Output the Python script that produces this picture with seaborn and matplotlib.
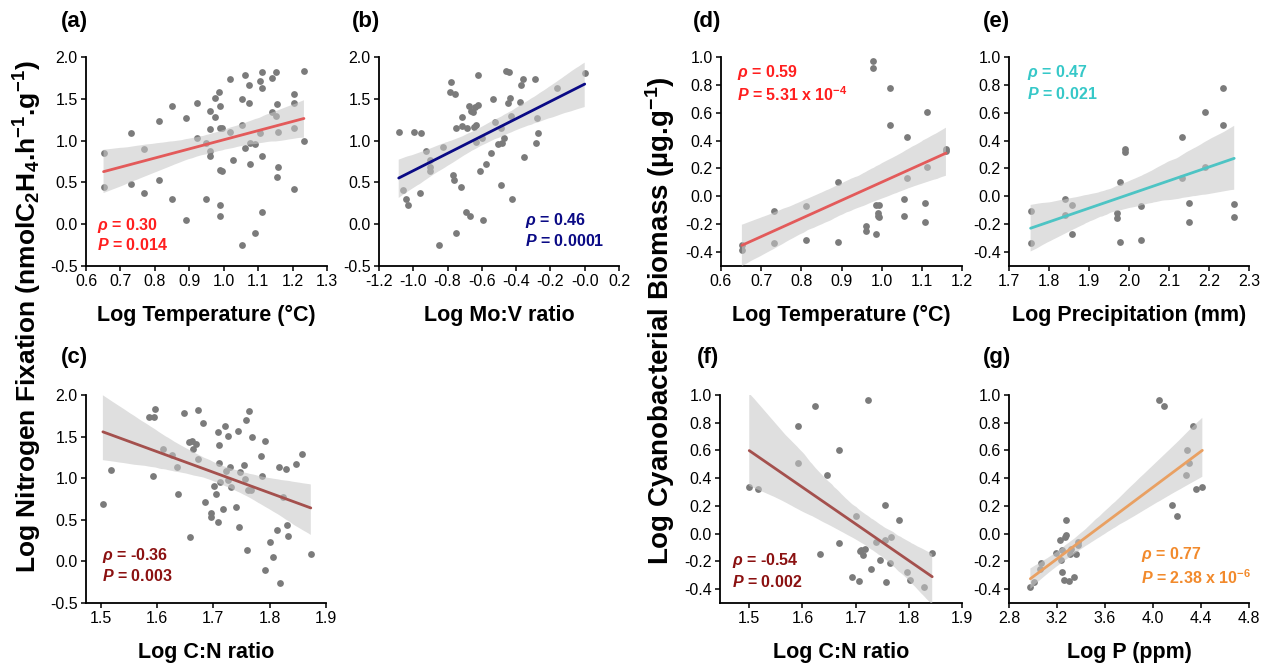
import numpy as np
import pandas as pd
import matplotlib
matplotlib.use("Agg")
import matplotlib.pyplot as plt
from matplotlib.collections import PolyCollection
from matplotlib.ticker import FormatStrFormatter
import seaborn as sns

sns.set_style("ticks")
plt.rcParams['font.family'] = ['Liberation Sans', 'DejaVu Sans']
plt.rcParams['axes.unicode_minus'] = False
plt.rcParams['mathtext.fontset'] = 'custom'
plt.rcParams['mathtext.rm'] = 'Liberation Sans'
plt.rcParams['mathtext.bf'] = 'Liberation Sans:bold'
plt.rcParams['mathtext.it'] = 'Liberation Sans:italic'
plt.rcParams['mathtext.bfit'] = 'Liberation Sans:italic:bold'

# ---------------- data ----------------
a_temp = [0.651, 0.651, 0.730, 0.730, 0.769, 0.769, 0.811, 0.811, 0.849, 0.849,
          0.890, 0.890, 0.922, 0.922, 0.948, 0.948, 0.961, 0.961, 0.961, 0.961,
          0.975, 0.975, 0.985, 0.988, 0.988, 0.988, 0.988, 0.990, 0.994, 0.994,
          1.019, 1.019, 1.026, 1.054, 1.054, 1.054, 1.062, 1.062, 1.072, 1.072,
          1.077, 1.077, 1.091, 1.091, 1.106, 1.106, 1.112, 1.112, 1.112, 1.112,
          1.140, 1.140, 1.152, 1.152, 1.154, 1.159, 1.159, 1.154, 1.204, 1.204,
          1.204, 1.204, 1.233, 1.233]
a_fix = [0.856, 0.44, 1.096, 0.476, 0.896, 0.372, 1.232, 0.532, 1.412, 0.304,
         1.272, 0.052, 1.444, 1.032, 0.976, 0.296, 1.352, 1.14, 0.88, 0.812,
         1.508, 1.28, 1.576, 1.408, 1.156, 0.648, 0.232, 0.096, 1.148, 0.64,
         1.736, 1.108, 0.764, 1.496, 1.188, -0.252, 1.784, 0.908, 1.668, 1.448,
         0.976, 0.716, 0.96, -0.104, 1.708, 1.088, 1.816, 1.628, 0.816, 0.14,
         1.744, 1.348, 1.816, 1.296, 1.44, 1.1, 0.688, 0.568, 1.556, 1.448,
         1.148, 0.416, 1.832, 0.992]

b_mov = [-1.085, -1.060, -1.041, -1.029, -0.996, -0.963, -0.957, -0.924, -0.904, -0.901,
         -0.904, -0.852, -0.829, -0.788, -0.778, -0.768, -0.764, -0.759, -0.753, -0.749,
         -0.724, -0.716, -0.714, -0.691, -0.685, -0.677, -0.667, -0.661, -0.652, -0.642,
         -0.648, -0.636, -0.623, -0.621, -0.632, -0.613, -0.593, -0.599, -0.574, -0.545,
         -0.535, -0.521, -0.506, -0.490, -0.481, -0.473, -0.486, -0.457, -0.442, -0.448,
         -0.438, -0.428, -0.426, -0.379, -0.370, -0.360, -0.356, -0.292, -0.282, -0.276,
         -0.271, -0.160, 0.0]
b_fix = [1.1, 0.412, 0.304, 0.228, 1.104, 0.368, 1.092, 0.872, 0.688, 0.768,
         0.64, -0.252, 0.92, 1.576, 1.7, 0.588, 0.528, 1.56, -0.104, 1.148,
         0.44, 1.28, 1.176, 0.148, 1.148, 1.408, 0.096, 1.36, 1.348, 1.4,
         1.16, 0.988, 1.784, 1.428, 1.188, 0.64, 0.048, 1.028, 0.716, 0.856,
         1.496, 1.228, 0.96, 0.468, 0.976, 1.028, 1.156, 1.828, 1.824, 1.448,
         1.508, 1.296, 0.296, 1.456, 1.668, 1.736, 0.808, 1.74, 0.976, 1.268,
         1.096, 1.628, 1.812]

c_cn = [1.504, 1.519, 1.586, 1.594, 1.597, 1.593, 1.610, 1.626, 1.636, 1.638,
        1.648, 1.656, 1.659, 1.663, 1.664, 1.670, 1.672, 1.672, 1.682, 1.685,
        1.696, 1.696, 1.702, 1.704, 1.708, 1.709, 1.710, 1.710, 1.711, 1.718,
        1.721, 1.722, 1.726, 1.726, 1.730, 1.732, 1.741, 1.744, 1.745, 1.748,
        1.754, 1.757, 1.758, 1.760, 1.761, 1.764, 1.767, 1.769, 1.785, 1.787,
        1.791, 1.791, 1.800, 1.806, 1.813, 1.817, 1.819, 1.823, 1.830, 1.829,
        1.833, 1.846, 1.857, 1.873]
c_fix = [0.688, 1.096, 1.74, 1.74, 1.832, 1.028, 1.348, 1.28, 1.14, 0.812,
         1.78, 1.44, 0.292, 1.452, 1.348, 1.408, 1.82, 1.228, 1.668, 0.712,
         0.58, 0.532, 0.912, 0.812, 1.56, 0.468, 1.4, 1.188, 0.96, 0.632,
         1.628, 1.088, 1.508, 0.98, 1.136, 0.896, 0.648, 1.572, 0.408, 1.08,
         1.16, 0.988, 1.7, 0.132, 0.86, 1.812, 0.86, 1.492, 1.268, 1.028,
         1.448, -0.108, 0.232, 0.048, 0.372, 1.14, -0.256, 0.772, 0.436, 1.108,
         0.3, 1.172, 1.296, 0.088]

d_temp = [0.652, 0.652, 0.733, 0.733, 0.812, 0.812, 0.891, 0.891, 0.962, 0.962,
          0.978, 0.978, 0.985, 0.986, 0.990, 0.990, 0.994, 0.994, 1.020, 1.020,
          1.055, 1.055, 1.064, 1.064, 1.107, 1.107, 1.114, 1.114, 1.160, 1.160]
d_bio = [-0.352, -0.383, -0.105, -0.335, -0.069, -0.316, 0.104, -0.328, -0.21, -0.251,
         0.969, 0.923, -0.059, -0.268, -0.119, -0.143, -0.15, -0.059, 0.777, 0.512,
         -0.016, -0.138, 0.428, 0.133, -0.045, -0.184, 0.604, 0.207, 0.34, 0.325]

e_prec = [1.754, 1.754, 1.840, 1.840, 1.857, 1.857, 1.969, 1.969, 1.977, 1.977,
          1.991, 1.991, 2.029, 2.029, 2.132, 2.132, 2.149, 2.149, 2.190, 2.190,
          2.235, 2.235, 2.263, 2.263]
e_bio = [-0.105, -0.335, -0.016, -0.136, -0.059, -0.273, -0.117, -0.153, 0.104, -0.328,
         0.34, 0.32, -0.069, -0.316, 0.428, 0.133, -0.045, -0.184, 0.604, 0.207,
         0.777, 0.512, -0.057, -0.148]

f_cn = [1.500, 1.516, 1.591, 1.592, 1.623, 1.633, 1.646, 1.669, 1.669, 1.694,
        1.700, 1.706, 1.708, 1.711, 1.714, 1.718, 1.723, 1.728, 1.739, 1.745,
        1.756, 1.756, 1.758, 1.764, 1.767, 1.781, 1.796, 1.803, 1.828, 1.844]
f_bio = [0.335, 0.32, 0.508, 0.774, 0.921, -0.148, 0.424, 0.601, -0.069, -0.316,
         0.131, -0.338, -0.124, -0.117, -0.153, -0.107, 0.962, -0.256, -0.061, -0.189,
         0.207, -0.049, -0.352, -0.213, -0.021, 0.1, -0.273, -0.333, -0.386, -0.141]

g_p = [2.978, 3.008, 3.064, 3.056, 3.189, 3.222, 3.236, 3.244, 3.244, 3.256,
       3.264, 3.272, 3.278, 3.300, 3.306, 3.314, 3.344, 3.361, 3.372, 3.378,
       4.050, 4.089, 4.161, 4.197, 4.275, 4.286, 4.300, 4.333, 4.356, 4.411]
g_bio = [-0.386, -0.352, -0.208, -0.256, -0.141, -0.049, -0.189, -0.273, -0.117, -0.333,
         -0.021, 0.1, -0.009, -0.338, -0.148, -0.107, -0.316, -0.148, -0.061, -0.08,
         0.962, 0.921, 0.207, 0.131, 0.424, 0.601, 0.508, 0.774, 0.32, 0.335]

panel_letters = ["(a)", "(b)", "(c)", "(d)", "(e)", "(f)", "(g)"]
x_labels = ["Log Temperature (°C)", "Log Mo:V ratio", "Log C:N ratio",
            "Log Temperature (°C)", "Log Precipitation (mm)", "Log C:N ratio", "Log P (ppm)"]
rho_texts = ["0.30", "0.46", "-0.36", "0.59", "0.47", "-0.54", "0.77"]
p_texts = ["0.014", "0.0001", "0.003", "5.31 x 10$^{\\mathbf{-4}}$", "0.021", "0.002",
           "2.38 x 10$^{\\mathbf{-6}}$"]

# ---------------- layout ----------------
W, H = 1271, 664
fig = plt.figure(figsize=(W / 100, H / 100), dpi=100)

def px_axes(l, r, t, b):
    return fig.add_axes([l / W, 1 - b / H, (r - l) / W, (b - t) / H])

RED_T, RED_L = "#ff1f1f", "#e35a5a"
NAVY = "#0a0a85"
BR_T, BR_L = "#8b1111", "#a4504d"
CY_T, CY_L = "#36c8c8", "#4dc4c4"
OR_T, OR_L = "#f28a2c", "#e9a062"

panels = [
    dict(x=a_temp, y=a_fix, box=(86, 327, 57, 266), xlim=(0.6, 1.3), xt=np.arange(0.6, 1.31, 0.1),
         ylim=(-0.5, 2.0), yt=np.arange(-0.5, 2.01, 0.5), lc=RED_L, tc=RED_T,
         tpos=(0.633, -0.01, -0.25), let=(61, 21)),
    dict(x=b_mov, y=b_fix, box=(379, 619, 57, 266), xlim=(-1.2, 0.2), xt=np.arange(-1.2, 0.21, 0.2),
         ylim=(-0.5, 2.0), yt=np.arange(-0.5, 2.01, 0.5), lc=NAVY, tc=NAVY,
         tpos=(-0.35, 0.05, -0.2), let=(352, 21)),
    dict(x=c_cn, y=c_fix, box=(86, 326, 395, 603), xlim=(1.474, 1.9), xt=np.arange(1.5, 1.91, 0.1),
         ylim=(-0.5, 2.0), yt=np.arange(-0.5, 2.01, 0.5), lc=BR_L, tc=BR_T,
         tpos=(1.502, 0.068, -0.18), let=(61, 358)),
    dict(x=d_temp, y=d_bio, box=(721, 962, 57, 266), xlim=(0.6, 1.2), xt=np.arange(0.6, 1.21, 0.1),
         ylim=(-0.5, 1.0), yt=np.arange(-0.4, 1.01, 0.2), lc=RED_L, tc=RED_T,
         tpos=(0.64, 0.89, 0.73), let=(693, 21)),
    dict(x=e_prec, y=e_bio, box=(1009, 1249, 57, 266), xlim=(1.7, 2.3), xt=np.arange(1.7, 2.31, 0.1),
         ylim=(-0.5, 1.0), yt=np.arange(-0.4, 1.01, 0.2), lc=CY_L, tc=CY_T,
         tpos=(1.746, 0.89, 0.737), let=(983, 21)),
    dict(x=f_cn, y=f_bio, box=(720, 962, 395, 603), xlim=(1.445, 1.9), xt=np.arange(1.5, 1.91, 0.1),
         ylim=(-0.5, 1.0), yt=np.arange(-0.4, 1.01, 0.2), lc=BR_L, tc=BR_T,
         tpos=(1.4675, -0.194, -0.345), let=(697, 358)),
    dict(x=g_p, y=g_bio, box=(1009, 1249, 395, 603), xlim=(2.8, 4.8), xt=np.arange(2.8, 4.81, 0.4),
         ylim=(-0.5, 1.0), yt=np.arange(-0.4, 1.01, 0.2), lc=OR_L, tc=OR_T,
         tpos=(3.903, -0.153, -0.32), let=(983, 358)),
]

for i, p in enumerate(panels):
    ax = px_axes(*p["box"])
    df = pd.DataFrame({"x": p["x"], "y": p["y"]})
    sns.regplot(data=df, x="x", y="y", ax=ax, ci=95, seed=1, truncate=True,
                scatter_kws=dict(s=24, color="#7b7b7b", linewidths=0, alpha=1, zorder=2),
                line_kws=dict(color=p["lc"], lw=2.0, zorder=4))
    for coll in ax.collections:
        if isinstance(coll, PolyCollection):
            coll.set_facecolor("#c8c8c8")
            coll.set_alpha(0.58)
            coll.set_edgecolor("none")
            coll.set_zorder(3)
    ax.set_xlim(*p["xlim"])
    ax.set_ylim(*p["ylim"])
    ax.set_xticks(p["xt"])
    ax.set_yticks(p["yt"])
    ax.xaxis.set_major_formatter(FormatStrFormatter("%.1f"))
    ax.yaxis.set_major_formatter(FormatStrFormatter("%.1f"))
    sns.despine(ax=ax)
    for s in ("left", "bottom"):
        ax.spines[s].set_linewidth(1.3)
        ax.spines[s].set_color("black")
    ax.tick_params(axis="both", direction="out", length=3.5, width=1.1, color="black",
                   labelsize=11.5, labelcolor="black", pad=2.5)
    ax.set_ylabel("")
    ax.set_xlabel(x_labels[i], fontsize=15.5, fontweight="bold", labelpad=11, color="black")
    tx, ty1, ty2 = p["tpos"]
    ax.text(tx, ty1, r"$\mathbfit{\rho}$ = " + rho_texts[i], color=p["tc"], fontsize=11.5,
            fontweight="bold", va="center", ha="left", zorder=6)
    ax.text(tx, ty2, r"$\mathbfit{P}$ = " + p_texts[i], color=p["tc"], fontsize=11.5,
            fontweight="bold", va="center", ha="left", zorder=6)
    lx, ly = p["let"]
    fig.text(lx / W, 1 - ly / H, panel_letters[i], fontsize=16, fontweight="bold",
             va="center", ha="left", color="black")

fig.text(28 / W, 1 - 317 / H,
         r"Log Nitrogen Fixation (nmolC$_{\mathbf{2}}$H$_{\mathbf{4}}$.h$^{\mathbf{-1}}$.g$^{\mathbf{-1}}$)",
         rotation=90, fontsize=19, fontweight="bold", va="center", ha="center", color="black")
fig.text(660 / W, 1 - 321 / H,
         r"Log Cyanobacterial Biomass (µg.g$^{\mathbf{-1}}$)",
         rotation=90, fontsize=20, fontweight="bold", va="center", ha="center", color="black")

fig.savefig("out.png", dpi=100, facecolor="white")
